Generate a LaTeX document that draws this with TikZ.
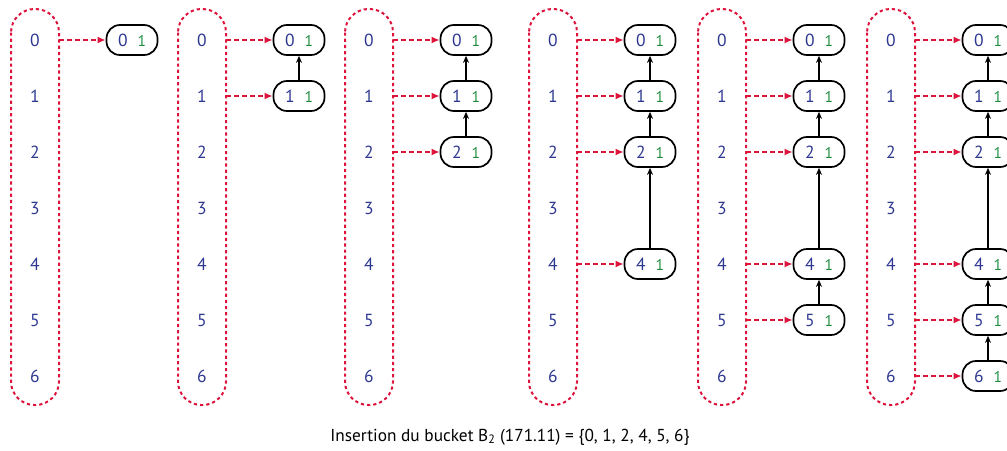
\documentclass[tikz,border=0pt]{standalone}
\usepackage{fontspec}
\setmainfont{PT Sans}
\usetikzlibrary{arrows.meta}
\definecolor{rd}{RGB}{220,20,60}
\definecolor{nb}{RGB}{45,55,145}
\definecolor{ng}{RGB}{30,140,60}
\begin{document}
\begin{tikzpicture}[x=1pt,y=-1pt,
 pill/.style={draw=rd, line width=2pt, dash pattern=on 3.2pt off 3pt, rounded corners=23.5pt},
 ptr/.style={draw=rd, line width=1.8pt, dash pattern=on 5pt off 3pt, -{Latex[length=8pt,width=7pt]}},
 cell/.style={draw=black, line width=1.7pt, rounded corners=13.5pt, minimum width=51pt, minimum height=30pt, inner sep=0pt, font=\fontsize{17.5}{17.5}\selectfont},
 lbl/.style={text=nb, font=\fontsize{17.5}{17.5}\selectfont},
 link/.style={draw=black, line width=1.5pt, -{Stealth[length=7pt,width=6pt]}},
 captext/.style={font=\fontsize{17.3}{17.3}\selectfont}
]
\useasboundingbox (0,0) rectangle (1007,450);
\clip (0,0) rectangle (1007,450);
\foreach \p/\off/\items in {1/0/{0},2/167/{0,1},3/334/{0,1,2},4/518/{0,1,2,4},5/687/{0,1,2,4,5},6/856/{0,1,2,4,5,6}}{
  \draw[pill] (\off+11,9) rectangle (\off+59,405);
  \foreach \r in {0,...,6}{
    \node[lbl] (l\p-\r) at (\off+35,40+56*\r) {\r};
    \coordinate (e\p-\r) at (\off+59,40+56*\r);
  }
  \foreach \i [remember=\i as \prev (initially -1)] in \items {
    \node[cell] (c\p-\i) at (\off+132,40+56*\i) {\textcolor{nb}{\i}\hspace{10pt}\textcolor{ng}{\fontsize{15.5}{15.5}\selectfont 1}};
    \draw[ptr] (e\p-\i) -- (c\p-\i.west);
    \ifnum\prev>-1 \draw[link] (c\p-\i) -- (c\p-\prev); \fi
  }
}
\node[captext] (caption) at (510,437) {Insertion du bucket B\textsubscript{2} (171.11) = \{0, 1, 2, 4, 5, 6\}};
\end{tikzpicture}
\end{document}
